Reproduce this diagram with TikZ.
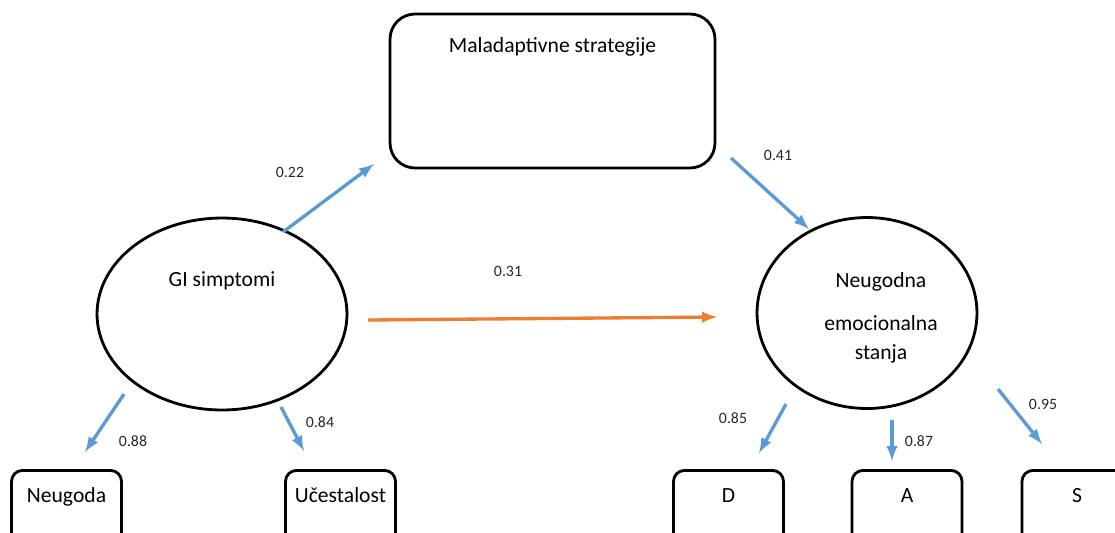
\documentclass[tikz,border=0pt]{standalone}
\usepackage{fontspec}
\setmainfont{Carlito}
\usetikzlibrary{shapes.geometric}
\usetikzlibrary{positioning}

\definecolor{loadblue}{HTML}{5B9BD5}
\definecolor{effectorange}{HTML}{ED7D31}

\begin{document}
\begin{tikzpicture}[
  x=0.02cm, y=-0.02cm,
  > = latex,
  every node/.style = {font=\fontsize{12.3}{15}\selectfont},
  latent/.style = {draw, ellipse, line width=1.6pt, inner sep=0pt},
  strat/.style = {draw, rounded corners=0.5cm, line width=1.6pt, minimum width=6.5cm, minimum height=3.08cm},
  manifest/.style = {draw, rounded corners=0.22cm, line width=1.6pt, anchor=north, minimum width=2.2cm, inner ysep=0pt, text height=18.5pt, text depth=24.5pt},
  loadarrow/.style = {->, line width=1.9pt, draw=loadblue},
  effectarrow/.style = {->, line width=1.9pt, draw=effectorange},
  coef/.style = {font=\fontsize{9}{11}\selectfont, text=black!85}
  ]
	\clip (0,0) rectangle (1115,532);

	\node[strat, label={[anchor=north,yshift=-10.5pt]north:Maladaptivne strategije}] (mal) at (552.5,91) {};
	\node[latent, minimum width=5cm, minimum height=3.84cm,
		label={[anchor=center,yshift=0.66cm]center:GI simptomi}] (gi) at (222,314) {};
	\node[latent, minimum width=4.4cm, minimum height=3.82cm] (neg) at (867,313) {};
	\node[align=center, font=\fontsize{12.3}{16.4}\selectfont] (negtext) at (881,318) {Neugodna\\[8pt]emocionalna\\stanja};

	\node[manifest] (neu) at (66.5,469) {Neugoda};
	\node[manifest] (uce) at (340.5,469) {Učestalost};
	\node[manifest] (d) at (728.5,469) {D};
	\node[manifest] (a) at (907,469) {A};
	\node[manifest] (s) at (1077,469) {S};

	% free arrow ends
	\coordinate (@gm1) at (283,232);
	\coordinate (@gm2) at (374,164);
	\coordinate (@mn1) at (731,158);
	\coordinate (@mn2) at (809,229);
	\coordinate (@gn1) at (368,320);
	\coordinate (@gn2) at (717,317);
	\coordinate (@ne1) at (124,394);
	\coordinate (@ne2) at (85,452);
	\coordinate (@uc1) at (281,407);
	\coordinate (@uc2) at (304,451);
	\coordinate (@d1) at (786,404);
	\coordinate (@d2) at (759,453);
	\coordinate (@a1) at (892,420);
	\coordinate (@a2) at (892,461);
	\coordinate (@s1) at (998,389);
	\coordinate (@s2) at (1042,444);

	\draw[loadarrow] (@gm1) -- (@gm2);
	\draw[loadarrow] (@mn1) -- (@mn2);
	\draw[effectarrow] (@gn1) -- (@gn2);
	\draw[loadarrow] (@ne1) -- (@ne2);
	\draw[loadarrow] (@uc1) -- (@uc2);
	\draw[loadarrow] (@d1) -- (@d2);
	\draw[loadarrow] (@a1) -- (@a2);
	\draw[loadarrow] (@s1) -- (@s2);

	\node[coef] (c22) at (290,172) {0.22};
	\node[coef] (c41) at (778,155) {0.41};
	\node[coef] (c31) at (508,271) {0.31};
	\node[coef] (c88) at (133,441) {0.88};
	\node[coef] (c84) at (320,422) {0.84};
	\node[coef] (c85) at (733,418) {0.85};
	\node[coef] (c87) at (919,441) {0.87};
	\node[coef] (c95) at (1043,404) {0.95};

\end{tikzpicture}
\end{document}
